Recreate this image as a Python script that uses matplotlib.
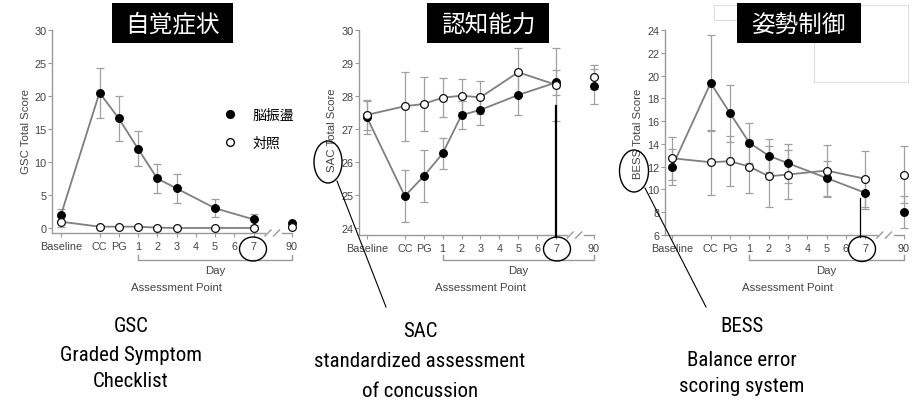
import numpy as np
import matplotlib
matplotlib.use("Agg")
import matplotlib.pyplot as plt
import matplotlib.transforms as mtransforms
from matplotlib.lines import Line2D
from matplotlib.patches import Ellipse, Rectangle

W, H = 917, 402

# assessment points (category positions on the x scale)
point_pos = [0, 2, 3, 4, 5, 6, 8, 10, 12]
tick_pos = [0, 2, 3, 4, 5, 6, 7, 8, 9, 10, 12]
tick_labels = ['Baseline', 'CC', 'PG', '1', '2', '3', '4', '5', '6', '7', '90']

# GSC
gsc_conc = [2.0, 20.5, 16.6, 12.0, 7.5, 6.0, 3.0, 1.3, 0.8]
gsc_conc_err = [0.9, 3.8, 3.35, 2.65, 2.15, 2.2, 1.35, 0.8, 0.0]
gsc_ctrl = [0.95, 0.2, 0.2, 0.2, 0.05, 0.0, 0.0, 0.0, 0.1]
gsc_ctrl_err = [0.8, 0, 0, 0, 0, 0, 0, 0, 0]

# SAC
sac_conc = [27.35, 24.97, 25.57, 26.26, 27.42, 27.58, 28.03, 28.41, 28.29]
sac_conc_err = [0.5, 0.8, 0.79, 0.47, 0.42, 0.45, 0.6, 0.38, 0.53]
sac_ctrl = [27.43, 27.69, 27.76, 27.95, 28.01, 27.96, 28.72, 28.34, 28.58]
sac_ctrl_err = [0.45, 1.05, 0.82, 0.6, 0.5, 0.5, 0.72, 1.1, 0.37]

# BESS
bess_conc = [11.95, 19.35, 16.7, 14.1, 12.97, 12.3, 11.0, 9.7, 8.0]
bess_conc_err = [1.6, 4.2, 2.5, 1.75, 1.44, 1.73, 1.54, 1.4, 1.4]
bess_ctrl = [12.74, 12.39, 12.48, 12.01, 11.16, 11.31, 11.66, 10.93, 11.31]
bess_ctrl_err = [1.9, 2.86, 2.19, 2.31, 2.69, 2.14, 2.28, 2.48, 2.54]

titles = ['自覚症状', '認知能力', '姿勢制御']
ylabels = ['GSC Total Score', 'SAC Total Score', 'BESS Total Score']
legend_labels = ['脳振盪', '対照']

JP = ['Noto Sans CJK JP', 'DejaVu Sans']
NARROW = ['Roboto Condensed', 'Liberation Sans', 'DejaVu Sans']
plt.rcParams['font.family'] = ['Liberation Sans', 'DejaVu Sans']


def fx(x):
    return x / W


def fy(y):
    return 1 - y / H


fig = plt.figure(figsize=(W / 100, H / 100), dpi=100)
fig.patch.set_facecolor('white')

# pixel layout of each panel: left, right, top, bottom, x0 px, step px, ylim, yticks
panels = [
    dict(box=(52, 300, 31, 234), x0=61, step=19.25, ylim=(-0.76, 30),
         yticks=[0, 5, 10, 15, 20, 25, 30], data=(gsc_conc, gsc_conc_err, gsc_ctrl, gsc_ctrl_err),
         ylab=(26, 131), title=(112, 233)),
    dict(box=(359, 605, 31, 236), x0=367, step=18.9, ylim=(23.79, 30),
         yticks=[24, 25, 26, 27, 28, 29, 30], data=(sac_conc, sac_conc_err, sac_ctrl, sac_ctrl_err),
         ylab=(332, 130), title=(427, 549)),
    dict(box=(665, 917, 31, 236), x0=672, step=19.33, ylim=(6, 24),
         yticks=[6, 8, 10, 12, 14, 16, 18, 20, 22, 24], data=(bess_conc, bess_conc_err, bess_ctrl, bess_ctrl_err),
         ylab=(638, 134), title=(737, 861)),
]

grey_line = '#7f7f7f'
grey_err = '#a0a0a0'
axis_col = '#9a9a9a'
txt_col = '#444444'

# small white boxes at top-right of the third panel (behind everything)
fig.add_artist(Rectangle((fx(814), fy(83)), 94 / W, 77 / H, transform=fig.transFigure,
                         facecolor='white', edgecolor='#dddddd', lw=0.8, zorder=0))
fig.add_artist(Rectangle((fx(714), fy(21)), 40 / W, 15 / H, transform=fig.transFigure,
                         facecolor='white', edgecolor='#dddddd', lw=0.8, zorder=0))

axes = []
for i, p in enumerate(panels):
    l, r, t, b = p['box']
    ax = fig.add_axes([fx(l), fy(b), (r - l) / W, (b - t) / H])
    ax.patch.set_alpha(0)
    x0, step = p['x0'], p['step']
    ax.set_xlim((l - x0) / step, (r - x0) / step)
    ax.set_ylim(*p['ylim'])
    conc, conc_err, ctrl, ctrl_err = p['data']

    ax.errorbar(point_pos, conc, yerr=conc_err, fmt='none', ecolor=grey_err,
                elinewidth=0.9, capsize=3, capthick=0.9, zorder=1, clip_on=False)
    ax.errorbar(point_pos, ctrl, yerr=ctrl_err, fmt='none', ecolor=grey_err,
                elinewidth=0.9, capsize=3, capthick=0.9, zorder=1, clip_on=False)
    ax.plot(point_pos[:8], conc[:8], color=grey_line, lw=1.3, zorder=2, clip_on=False)
    ax.plot(point_pos[:8], ctrl[:8], color=grey_line, lw=1.3, zorder=2, clip_on=False)
    ax.plot(point_pos, conc, 'o', ms=5.6, mfc='black', mec='black', mew=0.8,
            zorder=3, clip_on=False)
    ax.plot(point_pos, ctrl, 'o', ms=5.6, mfc='white', mec='#111111', mew=0.9,
            zorder=4, clip_on=False)

    for s in ['top', 'right', 'bottom']:
        ax.spines[s].set_visible(False)
    ax.spines['left'].set_color(axis_col)
    ax.spines['left'].set_linewidth(1.0)

    ax.set_yticks(p['yticks'])
    ax.set_xticks(tick_pos)
    ax.set_xticklabels(tick_labels)
    ax.tick_params(axis='y', length=3, width=0.8, color=axis_col, labelcolor=txt_col,
                   labelsize=7.8, pad=1)
    ax.tick_params(axis='x', length=3, width=0.8, color=axis_col, labelcolor=txt_col,
                   labelsize=7.8, pad=2.5)

    # broken x axis
    xt = ax.get_xaxis_transform()
    xl = ax.get_xlim()[0]
    ax.plot([xl, 10.6], [0, 0], color=axis_col, lw=1.0, transform=xt, clip_on=False)
    ax.plot([11.5, 12], [0, 0], color=axis_col, lw=1.0, transform=xt, clip_on=False)
    for bx in [10.75, 11.2]:
        px = x0 + step * bx
        fig.add_artist(Line2D([fx(px - 3), fx(px + 3)], [fy(b + 3), fy(b - 3)],
                              transform=fig.transFigure, color=axis_col, lw=1.0))

    # Day bracket
    bt = mtransforms.blended_transform_factory(ax.transData, fig.transFigure)
    ax.plot([4, 4, 12, 12], [fy(256), fy(261), fy(261), fy(256)], color=axis_col,
            lw=1.0, transform=bt, clip_on=False)
    ax.text(8.0, fy(271), 'Day', transform=bt, ha='center', va='center',
            fontsize=8.2, color=txt_col)
    ax.text(6.0, fy(288), 'Assessment Point', transform=bt, ha='center', va='center',
            fontsize=8.2, color=txt_col)

    fig.text(fx(p['ylab'][0]), fy(p['ylab'][1]), ylabels[i], rotation=90,
             ha='center', va='center', fontsize=8.2, color=txt_col)

    # title box
    tl, tr = p['title']
    fig.add_artist(Rectangle((fx(tl), fy(44)), (tr - tl) / W, 40 / H,
                             transform=fig.transFigure, facecolor='black',
                             edgecolor='none', zorder=5))
    fig.text(fx((tl + tr) / 2), fy(25), titles[i], ha='center', va='center',
             fontsize=17, color='white', family=JP, zorder=6)
    axes.append(ax)

# legend in the first panel
handles = [Line2D([], [], ls='none', marker='o', ms=5.6, mfc='black', mec='black'),
           Line2D([], [], ls='none', marker='o', ms=5.6, mfc='white', mec='#111111')]
leg = axes[0].legend(handles, legend_labels, loc='upper left',
                     bbox_to_anchor=(fx(223), fy(109)), bbox_transform=fig.transFigure,
                     frameon=False, handlelength=1.0, handletextpad=1.1,
                     labelspacing=1.0, borderpad=0, borderaxespad=0,
                     prop={'family': JP, 'size': 10})

# annotations: ellipses and pointer lines
ell_kw = dict(transform=fig.transFigure, facecolor='none', edgecolor='black', lw=1.0, zorder=7)
for cx, cy, w, h in [(253, 250, 27, 24), (557, 250, 27, 24), (862, 250, 27, 25),
                     (328, 163, 28, 42), (634, 172, 29, 42)]:
    fig.add_artist(Ellipse((fx(cx), fy(cy)), w / W, h / H, **ell_kw))

fig.add_artist(Line2D([fx(556), fx(556)], [fy(107), fy(238)], transform=fig.transFigure,
                      color='black', lw=1.6, zorder=7))
fig.add_artist(Line2D([fx(860), fx(860)], [fy(199), fy(238)], transform=fig.transFigure,
                      color='black', lw=0.9, zorder=7))
fig.add_artist(Line2D([fx(337), fx(386)], [fy(182), fy(308)], transform=fig.transFigure,
                      color='black', lw=0.8, zorder=7))
fig.add_artist(Line2D([fx(645), fx(706)], [fy(189), fy(308)], transform=fig.transFigure,
                      color='black', lw=0.8, zorder=7))

# explanation captions (baseline y in px)
captions = [
    (131, [(332, 'GSC'), (361, 'Graded Symptom'), (387, 'Checklist')]),
    (420, [(337, 'SAC'), (367, 'standardized assessment'), (397, 'of concussion')]),
    (742, [(332, 'BESS'), (366, 'Balance error'), (392, 'scoring system')]),
]
for cx, lines in captions:
    for cy, s in lines:
        fig.text(fx(cx), fy(cy), s, ha='center', va='baseline', fontsize=15,
                 color='black', family=NARROW)

fig.savefig('out.png', dpi=100)
